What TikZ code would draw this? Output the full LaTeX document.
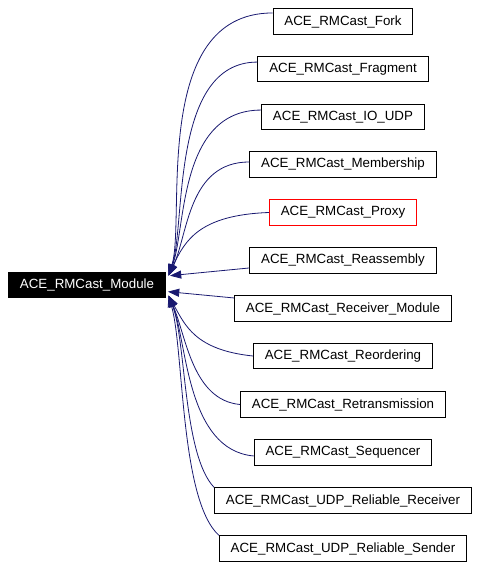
\documentclass[tikz,border=0pt]{standalone}
\usepackage{fontspec}
\setmainfont{Liberation Sans}
\usetikzlibrary{shapes,arrows.meta}
\definecolor{midnight}{RGB}{25,25,112}

\begin{document}
\begin{tikzpicture}[x=0.75pt,y=-0.75pt]
\tikzstyle{cls}=[rectangle,draw=black,line width=0.75pt,fill=white,minimum height=19pt,inner xsep=8.5pt,inner ysep=0pt,font=\fontsize{10}{12}\selectfont]
\tikzstyle{base}=[cls,fill=black,text=white]
\tikzstyle{inh}=[midnight,line width=0.6pt,-{Triangle[length=8.5pt,width=6pt]}]
\useasboundingbox (0,0) rectangle (479,567);
\node[base](Module) at (87,285) {ACE\_RMCast\_Module};
\node[cls](Fork) at (343,21.5) {ACE\_RMCast\_Fork};
\node[cls](Fragment) at (343,69) {ACE\_RMCast\_Fragment};
\node[cls](IOUDP) at (343,117) {ACE\_RMCast\_IO\_UDP};
\node[cls](Membership) at (343,164.5) {ACE\_RMCast\_Membership};
\node[cls,draw=red](Proxy) at (343,212.5) {ACE\_RMCast\_Proxy};
\node[cls](Reassembly) at (343,260.5) {ACE\_RMCast\_Reassembly};
\node[cls](RecvModule) at (343,308.5) {ACE\_RMCast\_Receiver\_Module};
\node[cls](Reordering) at (343,356) {ACE\_RMCast\_Reordering};
\node[cls](Retrans) at (343,404.5) {ACE\_RMCast\_Retransmission};
\node[cls](Sequencer) at (343,452.5) {ACE\_RMCast\_Sequencer};
\node[cls](UDPRecv) at (343,500.5) {ACE\_RMCast\_UDP\_Reliable\_Receiver};
\node[cls](UDPSend) at (343,548.5) {ACE\_RMCast\_UDP\_Reliable\_Sender};

% upper bundle
\draw[inh] ([yshift=6.4pt]Fork.west) .. controls (150,13) and (186,220) .. ([xshift=2pt,yshift=7pt]Module.east);
\draw[inh] ([yshift=5.2pt]Fragment.west) .. controls (170,62) and (186,225) .. ([xshift=2pt,yshift=7pt]Module.east);
\draw[inh] ([yshift=5.2pt]IOUDP.west) .. controls (178,110) and (186,230) .. ([xshift=2pt,yshift=7pt]Module.east);
\draw[inh] ([yshift=1.9pt]Membership.west) .. controls (188,162) and (188,235) .. ([xshift=2pt,yshift=7pt]Module.east);
\draw[inh] (Proxy.west) .. controls (200,215) and (185,240) .. ([xshift=2pt,yshift=7pt]Module.east);
\draw[inh] ([yshift=-5.6pt]Reassembly.west) -- ([xshift=3pt,yshift=7pt]Module.east);
\draw[inh] ([yshift=7.9pt]RecvModule.west) -- ([xshift=1.5pt,yshift=-5pt]Module.east);
% lower bundle
\draw[inh] (Reordering.west) .. controls (195,350) and (185,325) .. ([xshift=2pt,yshift=-8pt]Module.east);
\draw[inh] (Retrans.west) .. controls (192,400) and (186,335) .. ([xshift=2pt,yshift=-8pt]Module.east);
\draw[inh] ([yshift=-2.6pt]Sequencer.west) .. controls (186,450) and (187,340) .. ([xshift=2pt,yshift=-8pt]Module.east);
\draw[inh] (UDPRecv.north west) .. controls (183,455) and (186,340) .. ([xshift=2pt,yshift=-8pt]Module.east);
\draw[inh] (UDPSend.north west) .. controls (180,500) and (184,350) .. ([xshift=2pt,yshift=-8pt]Module.east);
\end{tikzpicture}
\end{document}
